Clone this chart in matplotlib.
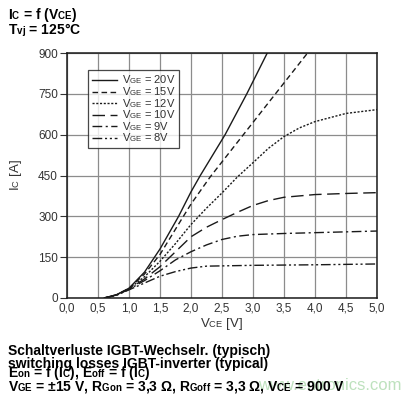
import numpy as np
import matplotlib
matplotlib.use("Agg")
import matplotlib.pyplot as plt
import matplotlib.ticker as mtick

plt.rcParams['font.family'] = ['Liberation Sans', 'DejaVu Sans']
plt.rcParams['mathtext.fontset'] = 'custom'
plt.rcParams['mathtext.rm'] = 'Liberation Sans'
plt.rcParams['mathtext.bf'] = 'Liberation Sans:bold'
plt.rcParams['mathtext.it'] = 'Liberation Sans'

# subindices menos bajos (como en la hoja de datos)
try:
    import matplotlib._mathtext as _mt
    _mt.FontConstantsBase.sub1 = 0.08
    _mt.FontConstantsBase.sub2 = 0.2
except Exception:
    pass

# --- datos (Ic en A vs Vce en V) ---
vce_20 = [0.6, 0.8, 1.0, 1.25, 1.5, 1.8, 2.0, 2.15, 2.55, 2.9, 3.23]
ic_20  = [0, 12, 36, 95, 180, 300, 390, 450, 600, 750, 900]

vce_15 = [0.6, 0.8, 1.0, 1.25, 1.5, 1.85, 2.0, 2.31, 2.5, 3.0, 3.5, 3.88]
ic_15  = [0, 12, 35, 88, 160, 290, 345, 445, 500, 645, 790, 900]

vce_12 = [0.6, 0.8, 1.0, 1.25, 1.5, 1.75, 2.0, 2.25, 2.5, 2.75, 3.0, 3.25, 3.5, 3.75, 4.0, 4.5, 5.0]
ic_12  = [0, 12, 34, 78, 135, 200, 270, 330, 386, 445, 497, 550, 593, 625, 648, 678, 692]

vce_10 = [0.6, 0.8, 1.0, 1.25, 1.5, 1.75, 2.0, 2.25, 2.5, 2.75, 3.0, 3.25, 3.5, 4.0, 4.5, 5.0]
ic_10  = [0, 11, 33, 70, 115, 170, 225, 260, 288, 315, 340, 358, 370, 380, 384, 387]

vce_9 = [0.6, 0.8, 1.0, 1.25, 1.5, 1.75, 2.0, 2.25, 2.5, 2.75, 3.0, 3.5, 4.0, 4.5, 5.0]
ic_9  = [0, 11, 32, 64, 100, 140, 170, 195, 215, 227, 233, 237, 240, 243, 246]

vce_8 = [0.6, 0.8, 1.0, 1.25, 1.5, 1.75, 2.0, 2.25, 2.5, 3.0, 4.0, 5.0]
ic_8  = [0, 10, 30, 55, 80, 97, 110, 117, 118, 120, 122, 125]

series = [
    (vce_20, ic_20, '20V', '-'),
    (vce_15, ic_15, '15V', (0, (4, 2.5))),
    (vce_12, ic_12, '12V', (0, (1.5, 1.2))),
    (vce_10, ic_10, '10V', (0, (9, 4))),
    (vce_9, ic_9, '9V', (0, (7, 2.5, 1.5, 2.5))),
    (vce_8, ic_8, '8V', (0, (7, 2, 1.5, 2, 1.5, 2))),
]

x_ticks = np.arange(0, 5.01, 0.5)
y_ticks = np.arange(0, 901, 150)

fig = plt.figure(figsize=(4.04, 3.95), dpi=100)
ax = fig.add_axes([67/404, 1 - 298/395, 310/404, 245/395])

for vx, iy, lab, ls in series:
    ax.plot(vx, iy, color='#1a1a1a', lw=1.0, linestyle=ls,
            label=r'V$_{\mathrm{GE}}$ = ' + lab)

ax.set_xlim(0, 5)
ax.set_ylim(0, 900)
ax.set_xticks(x_ticks)
ax.set_yticks(y_ticks)
ax.xaxis.set_major_formatter(mtick.FuncFormatter(lambda v, p: f'{v:.1f}'.replace('.', ',')))
ax.grid(True, color='#8c8c8c', lw=0.9)
ax.set_axisbelow(True)
for s in ax.spines.values():
    s.set_linewidth(1.1)
    s.set_color('#1a1a1a')
ax.tick_params(axis='y', length=5, width=0.8, pad=1.5, labelsize=8.5, colors='#333333')
ax.tick_params(axis='x', length=0, pad=3.5, labelsize=8.5, colors='#333333')

ax.set_xlabel(r'V$_{\mathrm{CE}}$ [V]', fontsize=9.5, color='#333333', labelpad=1)
ax.set_ylabel(r'I$_{\mathrm{C}}$ [A]', fontsize=9.5, color='#333333', labelpad=10)

leg = ax.legend(loc='upper left', bbox_to_anchor=(21/310, 228/245), fontsize=8,
                frameon=True, fancybox=False, handlelength=2.3, handletextpad=0.4,
                labelspacing=-0.08, borderpad=0.35, borderaxespad=0)
leg.get_frame().set_edgecolor('#1a1a1a')
leg.get_frame().set_linewidth(0.9)
for t in leg.get_texts():
    t.set_color('#333333')

# titulos superiores
titulo = (r'$\mathbf{I}_{\mathbf{C}}$ = f (V$_{\mathbf{CE}}$)' + '\n'
          + r'$\mathbf{T}_{\mathbf{vj}}$ = 125°C')
fig.text(8/404, 1 - 6/395, titulo, fontsize=10, fontweight='bold',
         va='top', ha='left', linespacing=0.8)

# textos inferiores (dos bloques para que el interlineado quede parejo)
bloque_1 = ['Schaltverluste IGBT-Wechselr. (typisch)',
            'switching losses IGBT-inverter (typical)']
bloque_2 = [
    r'E$_{\mathbf{on}}$ = f (I$_{\mathbf{C}}$), E$_{\mathbf{off}}$ = f (I$_{\mathbf{C}}$)',
    r'V$_{\mathbf{GE}}$ = ±15 V, R$_{\mathbf{Gon}}$ = 3,3 Ω, R$_{\mathbf{Goff}}$ = 3,3 Ω, V$_{\mathbf{CE}}$ = 900 V',
]
fig.text(8/404, 1 - 344/395, '\n'.join(bloque_1), fontsize=10, fontweight='bold',
         va='top', ha='left', linespacing=0.92)
fig.text(8/404, 1 - 364/395, '\n'.join(bloque_2), fontsize=10, fontweight='bold',
         va='top', ha='left', linespacing=0.7)

fig.text(402/404, 1 - 385/395, 'www.entronics.com', fontsize=12, color='#a8d8a8',
         alpha=0.75, va='center', ha='right', zorder=0)

fig.savefig('out.png', dpi=100)
